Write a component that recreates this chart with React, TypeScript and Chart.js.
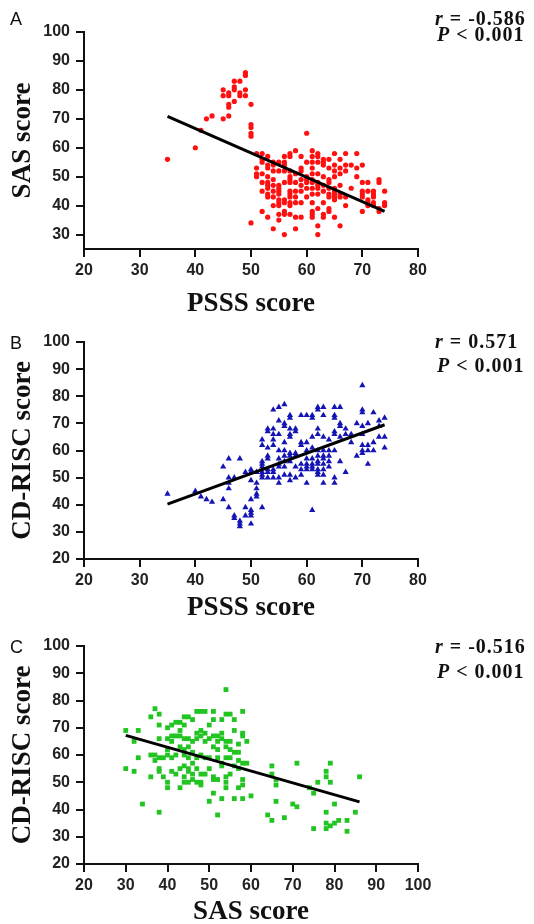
import React, { useEffect, useRef } from 'react';
import { Chart, registerables } from 'chart.js';
Chart.register(...registerables);

// ---------- Panel A: PSSS score (x) vs SAS score (y) ----------
const pointsA: number[][] = [
  [35,56],[40,60],[41,66],[42,70],[43,71],
  [45,70],[45,80],[45,78],
  [46,78],[46,79],[46,74],[46,75],[46,71],
  [47,83],[47,81],[47,80],[47,76],
  [48,83],[48,79],[48,78],
  [49,86],[49,85],[49,80],[49,78],
  [50,75],[50,68],[50,67],[50,65],[50,64],[50,34],
  [51,58],[51,53],[51,51],[51,50],
  [52,58],[52,56],[52,55],[52,51],[52,48],[52,45],[52,38],
  [53,57],[53,54],[53,53],[53,50],[53,48],[53,47],[53,46],[53,44],[53,43],[53,36],
  [54,55],[54,54],[54,52],[54,49],[54,47],[54,45],[54,43],[54,40],[54,32],
  [55,55],[55,52],[55,47],[55,46],[55,45],[55,44],[55,42],[55,41],[55,40],[55,37],[55,35],
  [56,57],[56,55],[56,54],[56,52],[56,48],[56,42],[56,41],[56,38],[56,37],[56,30],
  [57,58],[57,57],[57,52],[57,50],[57,49],[57,48],[57,45],[57,44],[57,43],[57,41],[57,40],[57,37],
  [58,59],[58,51],[58,48],[58,45],[58,43],[58,41],[58,36],[58,32],
  [59,57],[59,53],[59,52],[59,49],[59,47],[59,45],[59,41],[59,36],
  [60,65],[60,55],[60,50],[60,49],[60,48],[60,46],[60,43],
  [61,59],[61,57],[61,55],[61,53],[61,51],[61,49],[61,48],[61,46],[61,44],[61,41],[61,38],[61,37],[61,36],
  [62,58],[62,57],[62,55],[62,51],[62,48],[62,47],[62,46],[62,44],[62,39],[62,33],[62,30],
  [63,56],[63,55],[63,54],[63,50],[63,47],[63,45],[63,41],[63,37],[63,36],
  [64,56],[64,53],[64,49],[64,48],[64,46],[64,44],[64,43],[64,39],[64,38],
  [65,58],[65,54],[65,52],[65,50],[65,46],[65,45],[65,44],[65,43],[65,42],[65,36],
  [66,56],[66,53],[66,51],[66,47],[66,44],[66,43],[66,33],
  [67,58],[67,54],[67,52],[67,43],[67,40],
  [68,54],[68,46],
  [69,58],[69,53],[69,50],
  [70,54],[70,48],[70,45],[70,44],[70,43],[70,38],
  [71,48],[71,45],[71,42],[71,41],[71,40],
  [72,45],[72,44],[72,43],[72,41],[72,40],
  [73,49],[73,48],[73,39],[73,38],
  [74,45],[74,41],[74,40],
];
const fitA: number[][] = [[35, 70.8], [74, 38.0]];
const xTicksA = [20, 30, 40, 50, 60, 70, 80];
const yTicksA = [30, 40, 50, 60, 70, 80, 90, 100];

// ---------- Panel B: PSSS score (x) vs CD-RISC score (y) ----------
const pointsB: number[][] = [
  [35,44],[40,45],[41,43],[42,42],[43,41],
  [45,54],[45,42],
  [46,57],[46,50],[46,48],[46,46],[46,39],
  [47,50],[47,36],[47,35],
  [48,57],[48,34],[48,33],[48,32],
  [49,52],[49,39],[49,36],
  [50,53],[50,52],[50,49],[50,42],[50,38],[50,37],[50,36],[50,33],
  [51,52],[51,48],[51,46],[51,44],[51,43],
  [52,64],[52,62],[52,56],[52,55],[52,54],[52,52],[52,51],[52,50],[52,39],
  [53,68],[53,67],[53,61],[53,58],[53,57],[53,53],[53,52],[53,50],
  [54,75],[54,68],[54,66],[54,64],[54,62],[54,53],[54,52],[54,50],
  [55,76],[55,71],[55,66],[55,60],[55,57],[55,55],[55,54],[55,50],[55,48],
  [56,77],[56,70],[56,69],[56,63],[56,60],[56,58],[56,56],[56,54],[56,51],
  [57,73],[57,72],[57,68],[57,66],[57,65],[57,59],[57,58],[57,56],[57,51],[57,49],
  [58,68],[58,67],[58,59],[58,58],[58,54],[58,50],
  [59,73],[59,63],[59,62],[59,55],[59,53],[59,51],
  [60,73],[60,63],[60,60],[60,57],[60,55],[60,54],[60,53],[60,48],
  [61,73],[61,72],[61,65],[61,61],[61,57],[61,55],[61,54],[61,53],[61,38],
  [62,76],[62,75],[62,68],[62,66],[62,60],[62,58],[62,56],[62,55],[62,53],[62,52],[62,51],
  [63,76],[63,73],[63,65],[63,60],[63,58],[63,57],[63,55],[63,53],[63,51],[63,48],
  [64,64],[64,60],[64,58],[64,56],[64,54],
  [65,76],[65,73],[65,72],[65,67],[65,66],[65,60],[65,50],[65,48],
  [66,76],[66,70],[66,69],[66,65],[66,56],
  [67,68],[67,66],[67,52],
  [68,66],[68,63],
  [69,70],[69,58],
  [70,84],[70,75],[70,74],[70,69],[70,66],[70,62],[70,60],[70,59],
  [71,70],[71,62],[71,60],[71,55],
  [72,74],[72,63],[72,60],
  [73,71],[73,69],[73,65],
  [74,72],[74,65],[74,61],
];
const fitB: number[][] = [[35, 40.2], [74, 69.5]];
const xTicksB = [20, 30, 40, 50, 60, 70, 80];
const yTicksB = [20, 30, 40, 50, 60, 70, 80, 90, 100];

// ---------- Panel C: SAS score (x) vs CD-RISC score (y) ----------
const pointsC: number[][] = [
  [30,69],[30,55],[32,65],[32,54],[33,69],[33,59],[34,42],
  [36,74],[36,60],[36,52],
  [37,77],[37,60],[37,58],
  [38,75],[38,71],[38,66],[38,59],[38,55],[38,54],[38,39],
  [39,59],[39,52],
  [40,70],[40,66],[40,62],[40,60],[40,50],[40,48],
  [41,71],[41,67],[41,65],[41,59],[41,54],
  [42,72],[42,67],[42,60],[42,53],
  [43,72],[43,69],[43,67],[43,63],[43,55],[43,48],
  [44,74],[44,71],[44,66],[44,62],[44,60],[44,56],[44,52],[44,50],
  [45,74],[45,66],[45,63],[45,59],[45,55],[45,54],[45,50],
  [46,73],[46,65],[46,61],[46,57],[46,53],[46,51],
  [47,76],[47,68],[47,66],[47,59],[47,55],[47,50],
  [48,76],[48,69],[48,67],[48,60],[48,53],[48,50],[48,49],
  [49,76],[49,68],[49,65],[49,59],[49,53],
  [50,71],[50,66],[50,59],[50,55],[50,43],
  [51,76],[51,73],[51,67],[51,63],[51,52],[51,51],[51,46],
  [52,67],[52,65],[52,62],[52,59],[52,51],[52,38],
  [53,73],[53,68],[53,66],[53,57],[53,56],[53,44],
  [54,84],[54,75],[54,65],[54,63],[54,59],[54,52],[54,50],[54,48],
  [55,75],[55,65],[55,62],[55,59],[55,53],
  [56,73],[56,69],[56,61],[56,56],[56,44],
  [57,64],[57,61],[57,58],[57,55],[57,48],
  [58,76],[58,68],[58,67],[58,57],[58,51],[58,49],[58,44],
  [59,65],[59,57],
  [60,45],[64,38],[65,56],[65,53],[65,36],
  [66,51],[66,49],[66,43],[68,37],[70,42],[71,57],[71,41],
  [74,48],[75,46],[75,33],[76,50],
  [78,54],[78,52],[78,39],[78,35],[78,33],
  [79,57],[79,50],[79,34],
  [80,42],[80,35],[81,36],[83,36],[83,32],[85,39],[86,52],
];
const fitC: number[][] = [[30, 67.2], [86, 42.8]];
const xTicksC = [20, 30, 40, 50, 60, 70, 80, 90, 100];
const yTicksC = [20, 30, 40, 50, 60, 70, 80, 90, 100];

type PanelProps = {
  top: number;
  height: number;
  padTop: number;
  xAxisH: number;
  points: number[][];
  fit: number[][];
  xTicks: number[];
  yTicks: number[];
  yMin: number;
  xTitle: string;
  yTitle: string;
  color: string;
  pointStyle: string;
  radius: number;
  letter: string;
  letterY: number;
  rText: string;
  rY: number;
  pY: number;
};

const AXIS = '#111';
const tickFont = { family: '"Liberation Sans", Arial, sans-serif', size: 16, weight: 'bold' as const };
const titleFont = { family: '"Liberation Serif", "Times New Roman", serif', size: 27, weight: 'bold' as const };

function Panel(p: PanelProps) {
  const ref = useRef<HTMLCanvasElement | null>(null);
  useEffect(() => {
    const canvas = ref.current;
    if (!canvas) return;
    const annot = {
      id: 'annot',
      afterDraw(chart: any) {
        const ctx = chart.ctx as CanvasRenderingContext2D;
        ctx.save();
        ctx.fillStyle = '#111';
        ctx.textBaseline = 'alphabetic';
        ctx.textAlign = 'left';
        ctx.font = '18px "Liberation Sans", Arial, sans-serif';
        ctx.fillText(p.letter, 10, p.letterY);
        (ctx as any).letterSpacing = '1px';
        ctx.font = 'italic bold 20px "Liberation Serif", serif';
        ctx.fillText('r', 435, p.rY);
        let w = ctx.measureText('r').width;
        ctx.font = 'bold 20px "Liberation Serif", serif';
        ctx.fillText(' = ' + p.rText, 435 + w, p.rY);
        ctx.font = 'italic bold 20px "Liberation Serif", serif';
        ctx.fillText('P', 437, p.pY);
        w = ctx.measureText('P').width;
        ctx.font = 'bold 20px "Liberation Serif", serif';
        ctx.fillText(' < 0.001', 437 + w, p.pY);
        ctx.restore();
      },
    };
    const chart = new Chart(canvas, {
      type: 'scatter',
      data: {
        datasets: [
          {
            type: 'line' as any,
            data: p.fit.map(([x, y]) => ({ x, y })),
            borderColor: '#000',
            borderWidth: 3,
            pointRadius: 0,
            fill: false,
          } as any,
          {
            data: p.points.map(([x, y]) => ({ x, y })),
            backgroundColor: p.color,
            borderColor: p.color,
            borderWidth: 0,
            pointStyle: p.pointStyle as any,
            pointRadius: p.radius,
          },
        ],
      },
      plugins: [annot],
      options: {
        animation: false,
        responsive: false,
        devicePixelRatio: 1,
        layout: { padding: { left: 0, right: 534 - 418, top: p.padTop, bottom: 2 } },
        plugins: { legend: { display: false }, tooltip: { enabled: false } },
        scales: {
          x: {
            type: 'linear',
            min: p.xTicks[0],
            max: p.xTicks[p.xTicks.length - 1],
            afterBuildTicks: (s: any) => { s.ticks = p.xTicks.map((v) => ({ value: v })); },
            afterFit: (s: any) => { s.height = p.xAxisH; },
            grid: { drawOnChartArea: false, drawTicks: true, tickLength: 8, color: AXIS, lineWidth: 2 },
            border: { display: true, color: AXIS, width: 2 },
            ticks: { color: '#222', font: tickFont, padding: 4, maxRotation: 0, autoSkip: false },
            title: { display: true, text: p.xTitle, color: '#111', font: titleFont, padding: { top: 0, bottom: 0 } },
          },
          y: {
            type: 'linear',
            min: p.yMin,
            max: 100,
            afterBuildTicks: (s: any) => { s.ticks = p.yTicks.map((v) => ({ value: v })); },
            afterFit: (s: any) => { s.width = 84; },
            grid: { drawOnChartArea: false, drawTicks: true, tickLength: 8, color: AXIS, lineWidth: 2 },
            border: { display: true, color: AXIS, width: 2 },
            ticks: { color: '#222', font: tickFont, padding: 6, autoSkip: false },
            title: { display: true, text: p.yTitle, color: '#111', font: titleFont, padding: { top: 7, bottom: 0 } },
          },
        },
      } as any,
    });
    return () => chart.destroy();
  }, []);
  return (
    <canvas
      ref={ref}
      width={534}
      height={p.height}
      style={{ position: 'absolute', left: 0, top: p.top, width: 534, height: p.height, display: 'block' }}
    />
  );
}

export default function App() {
  return (
    <div style={{ position: 'absolute', left: 0, top: 0, width: 534, height: 924, overflow: 'hidden', background: '#fff' }}>
      <Panel top={0} height={322} padTop={32} xAxisH={71} points={pointsA} fit={fitA}
        xTicks={xTicksA} yTicks={yTicksA} yMin={25} xTitle="PSSS score" yTitle="SAS score"
        color="#ff1010" pointStyle="circle" radius={2.6} letter="A" letterY={25}
        rText="-0.586" rY={25} pY={41} />
      <Panel top={322} height={304} padTop={20} xAxisH={65} points={pointsB} fit={fitB}
        xTicks={xTicksB} yTicks={yTicksB} yMin={20} xTitle="PSSS score" yTitle="CD-RISC score"
        color="#1414b4" pointStyle="triangle" radius={3.6} letter="B" letterY={27}
        rText="0.571" rY={26} pY={50} />
      <Panel top={626} height={304} padTop={20} xAxisH={64} points={pointsC} fit={fitC}
        xTicks={xTicksC} yTicks={yTicksC} yMin={20} xTitle="SAS score" yTitle="CD-RISC score"
        color="#22c422" pointStyle="rect" radius={3.4} letter="C" letterY={27}
        rText="-0.516" rY={27} pY={52} />
    </div>
  );
}
